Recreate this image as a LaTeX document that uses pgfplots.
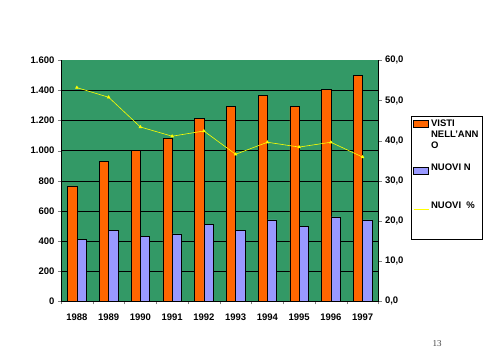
\documentclass[border=0pt]{standalone}
\usepackage{fontspec}
\setmainfont{Liberation Sans}
\newfontfamily\seriffont{Liberation Serif}
\usepackage{pgfplots}
\usepackage{pgfplotstable}
\pgfplotsset{compat=1.18}
\definecolor{bggreen}{HTML}{339966}
\definecolor{barorange}{HTML}{FF6600}
\definecolor{barblue}{HTML}{9999FF}
\definecolor{lineyellow}{HTML}{FFFF00}

\pgfplotsset{
  barlegend/.style={legend image code/.code={\draw[##1] (0pt,-3.5pt) rectangle (15pt,3.5pt);}},
  barlegendtop/.style={legend image code/.code={\draw[##1] (0pt,7.5pt) rectangle (15pt,14.5pt);}},
  linelegend/.style={legend image code/.code={\draw[##1] (0pt,0pt) -- (15pt,0pt);}},
}

\pgfplotstableread{
x visti nuovi perc
0 766 411 53.2
1 927 471 50.8
2 1000 433 43.4
3 1082 447 41.1
4 1213 513 42.4
5 1292 473 36.6
6 1365 540 39.6
7 1292 497 38.4
8 1407 560 39.6
9 1502 540 35.9
}\datatable

\newcommand{\tlfont}{\fontsize{9.5}{11}\selectfont\bfseries}

\begin{document}
\begin{tikzpicture}
\path[use as bounding box, fill=white] (0pt,0pt) rectangle (484pt,-363pt);
\begin{axis}[
  at={(61pt,-301.3pt)}, anchor=south west,
  scale only axis, width=317.5pt, height=241pt,
  xmin=-0.5, xmax=9.5, ymin=0, ymax=1600,
  axis background/.style={fill=bggreen},
  axis x line*=bottom, axis y line*=left,
  ybar=0pt, bar width=9.3pt,
  tick align=outside, major tick length=3pt,
  xtick={-0.5,0.5,...,9.5}, xticklabels={,,,,,,,,,,,},
  extra x ticks={0,1,2,3,4,5,6,7,8,9},
  extra x tick labels={1988,1989,1990,1991,1992,1993,1994,1995,1996,1997},
  extra x tick style={major tick length=0pt, xticklabel style={yshift=-9pt}},
  ytick={0,200,...,1400},
  extra y ticks={1600},
  extra y tick style={grid=none},
  ymajorgrids, grid style={black, line width=0.5pt},
  scaled y ticks=false,
  yticklabel style={/pgf/number format/.cd, 1000 sep={.}},
  /pgf/number format/assume math mode=true,
  tick label style={font=\tlfont},
  legend style={at={(1.1024,0.769)}, anchor=north west, draw=black, line width=0.5pt,
    fill=white, font=\tlfont, inner sep=2pt, row sep=6pt,
    nodes={text depth=}, cells={align=left}},
  legend cell align=left,
]
\addplot[draw=black, line width=0.4pt, fill=barorange, barlegendtop]
  table[x=x,y=visti]{\datatable};
\addlegendentry{VISTI\\NELL'ANN\\O}
\addplot[draw=black, line width=0.4pt, fill=barblue, barlegend]
  table[x=x,y=nuovi]{\datatable};
\addlegendentry{\rule[-12pt]{0pt}{24pt}NUOVI N}
\addlegendimage{lineyellow, line width=0.8pt, linelegend}
\addlegendentry{\rule[-16pt]{0pt}{32pt}NUOVI~~\%}
\addlegendimage{empty legend}
\addlegendentry{\rule{0pt}{0pt}}
\end{axis}
\begin{axis}[
  at={(61pt,-301.3pt)}, anchor=south west,
  scale only axis, width=317.5pt, height=241pt,
  xmin=-0.5, xmax=9.5, ymin=0, ymax=60,
  axis x line=none, axis y line*=right,
  tick align=outside, major tick length=3pt,
  ytick={0,10,...,60},
  yticklabel style={/pgf/number format/.cd, fixed, fixed zerofill, precision=1, use comma},
  /pgf/number format/assume math mode=true,
  tick label style={font=\tlfont},
]
\addplot[lineyellow, line width=0.6pt, mark=triangle*, mark size=1.5pt]
  table[x=x,y=perc]{\datatable};
\end{axis}
\node[font=\seriffont\fontsize{9}{10}\selectfont, text=black!75] at (437pt,-344pt) {13};
\end{tikzpicture}
\end{document}
